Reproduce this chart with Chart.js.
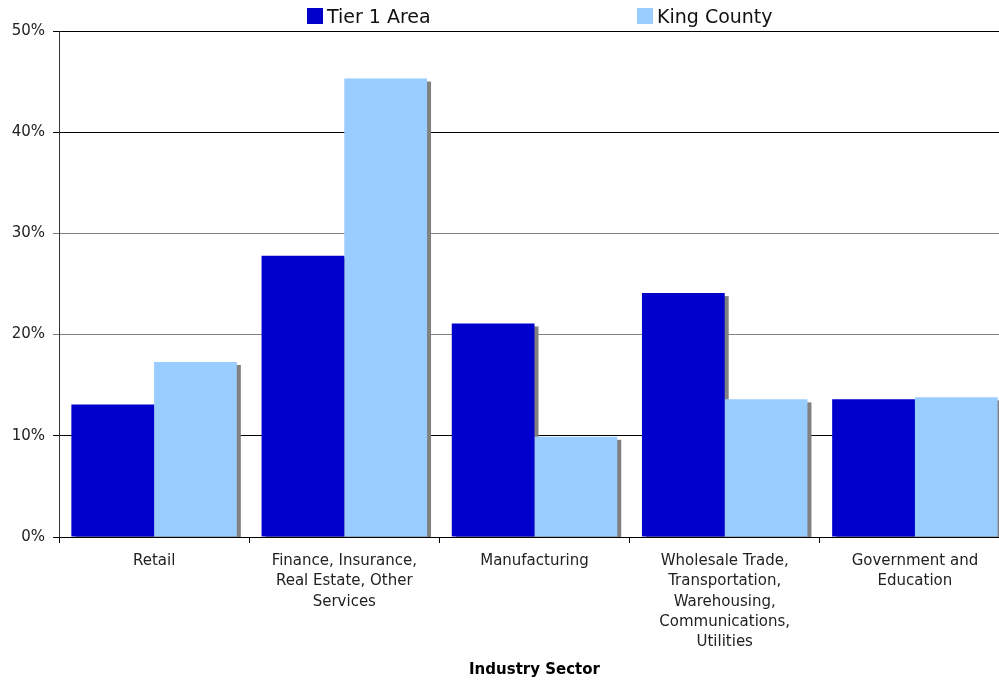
<!DOCTYPE html>
<html>
<head>
<meta charset="utf-8">
<script src="https://cdn.jsdelivr.net/npm/chart.js@4"></script>
<style>
  html, body { margin: 0; padding: 0; overflow: hidden; background: #fff; }
  #wrap { position: relative; width: 999px; height: 681px; overflow: hidden; }
  #chart { position: absolute; left: 0; top: 0; }
  .leg { position: absolute; top: 7px; font: 19px "DejaVu Sans", Verdana, sans-serif; line-height: 19px; color: #111; white-space: nowrap; }
  .leg i { position: absolute; top: 1px; width: 16px; height: 16px; }
</style>
</head>
<body>
<div id="wrap">
  <canvas id="chart" width="1012" height="681"></canvas>
  <div id="legend"></div>
</div>
<script>
// data
const categories = [
  ['Retail'],
  ['Finance, Insurance,', 'Real Estate, Other', 'Services'],
  ['Manufacturing'],
  ['Wholesale Trade,', 'Transportation,', 'Warehousing,', 'Communications,', 'Utilities'],
  ['Government and', 'Education']
];
const seriesNames = ['Tier 1 Area', 'King County'];
const tier1Area = [13.1, 27.8, 21.1, 24.1, 13.6];
const kingCounty = [17.3, 45.3, 9.9, 13.6, 13.8];
const yTicks = [0, 10, 20, 30, 40, 50];
const xTitle = 'Industry Sector';

const colors = ['#0000cc', '#99ccff'];
const font = '"DejaVu Sans", Verdana, sans-serif';

// legend in html, spaced like the original
const legendX = [307, 637];
const legend = document.getElementById('legend');
seriesNames.forEach((name, i) => {
  const el = document.createElement('div');
  el.className = 'leg';
  el.style.left = legendX[i] + 'px';
  el.innerHTML = '<i style="left:0;background:' + colors[i] + '"></i><span style="margin-left:20px">' + name + '</span>';
  legend.appendChild(el);
});

// gray drop shadow behind each bar
const barShadow = {
  id: 'barShadow',
  beforeDatasetsDraw(chart) {
    const ctx = chart.ctx;
    const area = chart.chartArea;
    ctx.save();
    ctx.beginPath();
    ctx.rect(area.left, area.top, area.right - area.left, area.bottom - area.top);
    ctx.clip();
    ctx.fillStyle = '#808080';
    chart.data.datasets.forEach((ds, i) => {
      chart.getDatasetMeta(i).data.forEach(bar => {
        ctx.fillRect(bar.x - bar.width / 2 + 4, bar.y + 3, bar.width, bar.base - bar.y);
      });
    });
    ctx.restore();
  }
};

new Chart(document.getElementById('chart'), {
  type: 'bar',
  data: {
    labels: categories,
    datasets: [
      { label: seriesNames[0], data: tier1Area, backgroundColor: colors[0] },
      { label: seriesNames[1], data: kingCounty, backgroundColor: colors[1] }
    ]
  },
  options: {
    responsive: false,
    animation: false,
    devicePixelRatio: 1,
    layout: { padding: { top: 31, right: 2, left: 0, bottom: 0 } },
    datasets: { bar: { barPercentage: 1.0, categoryPercentage: 0.87 } },
    plugins: {
      legend: { display: false },
      tooltip: { enabled: false }
    },
    scales: {
      x: {
        offset: true,
        grid: { drawOnChartArea: false, tickLength: 6, color: '#000', offset: true },
        border: { color: '#000' },
        ticks: {
          autoSkip: false, maxRotation: 0, padding: 8, color: '#222',
          font: { family: font, size: 15, lineHeight: 1.35 }
        },
        title: {
          display: true, text: xTitle, color: '#000',
          font: { family: font, size: 15, weight: 'bold' },
          padding: { top: 2, bottom: 2 }
        },
        afterFit(scale) { scale.height = 144; }
      },
      y: {
        min: 0, max: 50,
        afterBuildTicks(scale) { scale.ticks = yTicks.map(v => ({ value: v })); },
        grid: {
          tickLength: 6,
          color: ctx => (ctx.tick && (ctx.tick.value === 20 || ctx.tick.value === 30)) ? '#808080' : '#000'
        },
        border: { color: '#333' },
        ticks: {
          padding: 8, color: '#222',
          font: { family: font, size: 15 },
          callback: v => v + '%'
        },
        afterFit(scale) { scale.width = 59; }
      }
    }
  },
  plugins: [barShadow]
});
</script>
</body>
</html>
